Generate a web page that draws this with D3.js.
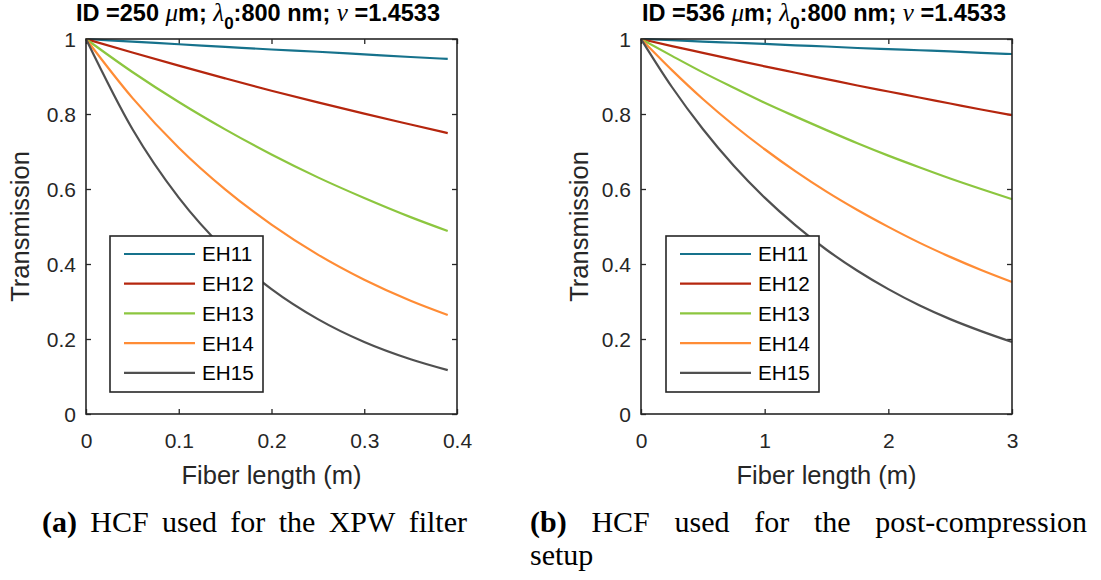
<!DOCTYPE html>
<html>
<head>
<meta charset="utf-8">
<script src="https://cdn.jsdelivr.net/npm/d3@7"></script>
<style>
  body { margin: 0; background: #fff; }
  svg { display: block; }
  .tick text { font-family: "Liberation Sans", Arial, sans-serif; font-size: 21px; fill: #262626; }
</style>
</head>
<body>
<svg id="fig" width="1101" height="580"></svg>
<script>
// Mode names and line colours.
const modes = ["EH11", "EH12", "EH13", "EH14", "EH15"];
const colors = ["#16728c", "#b5260e", "#8cc63f", "#ff8c35", "#505050"];

// Panel (a): fiber length (m) and transmission per mode.
const lengthA = [0, 0.05, 0.1, 0.15, 0.2, 0.25, 0.3, 0.35, 0.39];
const transA = [
    [1, 0.993, 0.986, 0.979, 0.972, 0.966, 0.959, 0.952, 0.947],
    [1, 0.964, 0.929, 0.895, 0.862, 0.831, 0.801, 0.772, 0.749],
    [1, 0.912, 0.832, 0.759, 0.692, 0.631, 0.576, 0.525, 0.488],
    [1, 0.843, 0.710, 0.599, 0.505, 0.425, 0.358, 0.302, 0.264],
    [1, 0.760, 0.577, 0.438, 0.333, 0.253, 0.192, 0.146, 0.117]
];

// Panel (b).
const lengthB = [0, 0.25, 0.5, 0.75, 1, 1.25, 1.5, 1.75, 2, 2.25, 2.5, 2.75, 3];
const transB = [
    [1, 0.997, 0.993, 0.990, 0.987, 0.983, 0.980, 0.976, 0.973, 0.970, 0.967, 0.963, 0.960],
    [1, 0.981, 0.963, 0.945, 0.927, 0.910, 0.893, 0.876, 0.860, 0.844, 0.828, 0.812, 0.797],
    [1, 0.955, 0.911, 0.870, 0.830, 0.793, 0.757, 0.722, 0.689, 0.658, 0.628, 0.600, 0.573],
    [1, 0.917, 0.840, 0.770, 0.706, 0.647, 0.593, 0.544, 0.499, 0.457, 0.419, 0.384, 0.352],
    [1, 0.872, 0.760, 0.662, 0.577, 0.503, 0.438, 0.382, 0.333, 0.290, 0.253, 0.221, 0.192]
];

// Tick values.
const xTicksA = [0, 0.1, 0.2, 0.3, 0.4];
const xTicksB = [0, 1, 2, 3];
const yTicks = [0, 0.2, 0.4, 0.6, 0.8, 1];

const svg = d3.select("#fig");
const axisColor = "#262626";
const sans = "'Liberation Sans', Arial, sans-serif";
const serif = "'Liberation Serif', 'Times New Roman', serif";

function drawPanel(opts) {

    const x = d3.scaleLinear().domain(opts.xDomain).range([opts.left, opts.right]);
    const y = d3.scaleLinear().domain([0, 1]).range([414, 39]);
    const g = svg.append("g");
    const fmt = d3.format("~g");

    // Axes with inward ticks on all four sides.
    const bottom = g.append("g").attr("transform", `translate(0,${y(0)})`)
        .call(d3.axisBottom(x).tickValues(opts.xTicks).tickSize(-5).tickPadding(0).tickFormat(fmt));
    bottom.selectAll(".tick text").attr("y", 34).attr("dy", null);
    const left = g.append("g").attr("transform", `translate(${x.range()[0]},0)`)
        .call(d3.axisLeft(y).tickValues(yTicks).tickSize(-5).tickPadding(10).tickFormat(fmt));
    left.selectAll(".tick text").attr("dy", "0.36em");
    g.append("g").attr("transform", `translate(0,${y(1)})`)
        .call(d3.axisTop(x).tickValues(opts.xTicks).tickSize(-5).tickFormat(""));
    g.append("g").attr("transform", `translate(${x.range()[1]},0)`)
        .call(d3.axisRight(y).tickValues(yTicks).tickSize(-5).tickFormat(""));
    g.selectAll(".domain").remove();
    g.selectAll(".tick line").attr("stroke", axisColor).attr("stroke-width", 1.3);

    // Curves.
    const line = d3.line().x((d) => x(d[0])).y((d) => y(d[1])).curve(d3.curveMonotoneX);
    opts.trans.forEach((series, i) => {
        g.append("path")
            .datum(opts.lengths.map((l, j) => [l, series[j]]))
            .attr("d", line)
            .attr("fill", "none")
            .attr("stroke", colors[i])
            .attr("stroke-width", 2.2);
    });

    // Box.
    g.append("rect")
        .attr("x", x.range()[0]).attr("y", y(1))
        .attr("width", x.range()[1] - x.range()[0]).attr("height", y(0) - y(1))
        .attr("fill", "none").attr("stroke", axisColor).attr("stroke-width", 1.6);

    // Legend.
    const lx = opts.legendX;
    g.append("rect")
        .attr("x", lx).attr("y", 236).attr("width", 153).attr("height", 156)
        .attr("fill", "#fff").attr("stroke", axisColor).attr("stroke-width", 1.6);
    modes.forEach((m, i) => {
        const ly = 254 + i * 29.7;
        g.append("line")
            .attr("x1", lx + 14).attr("x2", lx + 85).attr("y1", ly).attr("y2", ly)
            .attr("stroke", colors[i]).attr("stroke-width", 2.2);
        g.append("text")
            .attr("x", lx + 92).attr("y", ly).attr("dy", "0.36em")
            .style("font-family", sans).style("font-size", "20.7px").attr("fill", "#000")
            .text(m);
    });

    const cx = (x.range()[0] + x.range()[1]) / 2;

    // Title with math symbols.
    const t = g.append("text")
        .attr("x", opts.titleX).attr("y", 21).attr("text-anchor", "middle")
        .style("font-family", sans).style("font-size", "23.5px").style("font-weight", "bold").attr("fill", "#000");
    const mi = (s) => t.append("tspan").style("font-family", serif).style("font-style", "italic")
        .style("font-weight", "normal").style("font-size", "25px").text(s);
    t.append("tspan").text(`ID =${opts.id} `);
    mi("\u03bc");
    t.append("tspan").text("m; ");
    mi("\u03bb");
    t.append("tspan").attr("dy", 8).style("font-size", "17px").text("0");
    t.append("tspan").attr("dy", -8).text(":800 nm; ");
    mi("\u03bd");
    t.append("tspan").text(" =1.4533");

    // Axis labels.
    g.append("text")
        .attr("x", cx).attr("y", 484).attr("text-anchor", "middle")
        .style("font-family", sans).style("font-size", "25.5px").attr("fill", axisColor)
        .text("Fiber length (m)");
    g.append("text")
        .attr("transform", `translate(${opts.ylabelX},${y(0.5)}) rotate(-90)`)
        .attr("text-anchor", "middle")
        .style("font-family", sans).style("font-size", "25.5px").attr("fill", axisColor)
        .text("Transmission");
}

drawPanel({ xDomain: [0, 0.4], left: 86, right: 457, xTicks: xTicksA, lengths: lengthA, trans: transA,
    legendX: 110, id: 250, titleX: 258, ylabelX: 29 });
drawPanel({ xDomain: [0, 3], left: 641, right: 1012, xTicks: xTicksB, lengths: lengthB, trans: transB,
    legendX: 666, id: 536, titleX: 824, ylabelX: 588 });

// Captions: words spread over a given width (justified line).
function caption(x0, y0, words, width, boldFirst) {

    const g = svg.append("g").style("font-family", serif).style("font-size", "30px").attr("fill", "#000");
    const nodes = words.map((w, i) => g.append("text").attr("y", y0)
        .style("font-weight", boldFirst && i === 0 ? "bold" : "normal").text(w));
    const widths = nodes.map((n) => n.node().getComputedTextLength());
    let gap = 7.5;
    if (width && words.length > 1) {
        gap = (width - d3.sum(widths)) / (words.length - 1);
    }
    let cx = x0;
    nodes.forEach((n, i) => {
        n.attr("x", cx);
        cx += widths[i] + gap;
    });
}

caption(42, 532, ["(a)", "HCF", "used", "for", "the", "XPW", "filter"], 425, true);
caption(530, 532, ["(b)", "HCF", "used", "for", "the", "post-compression"], 557, true);
caption(530, 565, ["setup"], 0, false);
</script>
</body>
</html>
